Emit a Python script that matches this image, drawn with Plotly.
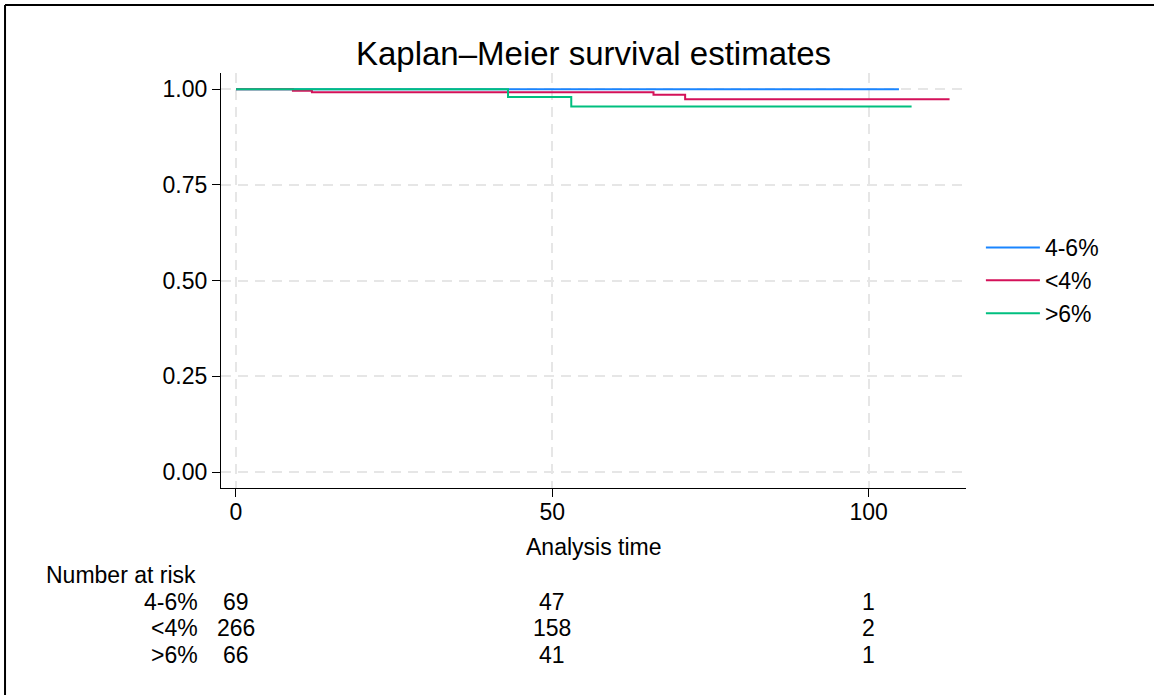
import plotly.graph_objects as go

# ---- data ----
groups = ["4-6%", "<4%", ">6%"]
colors = ["#1a85ff", "#d41159", "#00bf7f"]

t_mid = [0, 104.8]
s_mid = [1.0, 1.0]

t_low = [0, 9, 12, 66, 71, 112.8]
s_low = [1.0, 0.9962, 0.9925, 0.986, 0.974, 0.974]

t_high = [0, 43, 53, 106.8]
s_high = [1.0, 0.980, 0.955, 0.955]

risk_times = [0, 50, 100]
risk_mid = [69, 47, 1]
risk_low = [266, 158, 2]
risk_high = [66, 41, 1]

x_ticks = [0, 50, 100]
y_ticks = [0, 0.25, 0.5, 0.75, 1.0]

FONT = "Liberation Sans, Arial, Helvetica, sans-serif"
FS = 23

fig = go.Figure()
series = [(t_mid, s_mid), (t_low, s_low), (t_high, s_high)]
for name, col, (t, s) in zip(groups, colors, series):
    fig.add_trace(go.Scatter(
        x=t, y=s, mode="lines", name=name, legendgroup=name,
        line=dict(color=col, width=2, shape="hv"),
    ))

# risk table
row_y = [-0.2747, -0.3373, -0.4024]
for name, yy, vals in zip(groups, row_y, [risk_mid, risk_low, risk_high]):
    fig.add_annotation(x=-0.0285, y=yy, xref="paper", yref="paper", text=name,
                       showarrow=False, xanchor="right", yanchor="middle",
                       font=dict(size=FS, color="black", family=FONT))
    for tt, v in zip(risk_times, vals):
        fig.add_annotation(x=tt, y=yy, xref="x", yref="paper", text=str(v),
                           showarrow=False, xanchor="center", yanchor="middle",
                           font=dict(size=FS, color="black", family=FONT))
fig.add_annotation(x=-0.2376, y=-0.2096, xref="paper", yref="paper",
                   text="Number at risk", showarrow=False, xanchor="left",
                   yanchor="middle", font=dict(size=FS, color="black", family=FONT))
fig.add_annotation(x=0.5, y=-0.142, xref="paper", yref="paper",
                   text="Analysis time", showarrow=False, xanchor="center",
                   yanchor="middle", font=dict(size=FS, color="black", family=FONT))

# outer frame (only left and top edges are inside the picture)
fx0, fy1 = -0.2899, 1.1639
fig.add_shape(type="line", xref="paper", yref="paper", x0=fx0, x1=fx0, y0=-0.6, y1=fy1,
              line=dict(color="black", width=2))
fig.add_shape(type="line", xref="paper", yref="paper", x0=fx0, x1=1.4, y0=fy1, y1=fy1,
              line=dict(color="black", width=2))

fig.update_layout(
    width=1154, height=695,
    margin=dict(l=221, r=188, t=73, b=207),
    paper_bgcolor="white", plot_bgcolor="white",
    font=dict(family=FONT, size=FS, color="black"),
    title=dict(text="Kaplan\u2013Meier survival estimates", x=0.5, xref="paper",
               y=1 - 53 / 695, yref="container", xanchor="center", yanchor="middle",
               font=dict(size=33, color="black", family=FONT)),
    showlegend=True,
    legend=dict(x=1.02, xanchor="left", y=0.5, yanchor="middle",
                bgcolor="rgba(0,0,0,0)", borderwidth=0, tracegroupgap=0,
                itemwidth=54, font=dict(size=FS, color="black", family=FONT)),
)
fig.update_xaxes(range=[-2.37, 115.4], tickvals=x_ticks, ticktext=[str(v) for v in x_ticks],
                 showline=True, linecolor="black", linewidth=1.3,
                 ticks="outside", ticklen=8, tickcolor="black", tickwidth=1.3,
                 ticklabelstandoff=-5,
                 showgrid=True, gridcolor="#e6e6e6", griddash="10px,7px", gridwidth=1.5,
                 zeroline=False, tickfont=dict(size=FS))
fig.update_yaxes(range=[-0.0418, 1.0426], tickvals=y_ticks, tickformat=".2f",
                 showline=True, linecolor="black", linewidth=1.3,
                 ticks="outside", ticklen=8, tickcolor="black", tickwidth=1.3,
                 showgrid=True, gridcolor="#e6e6e6", griddash="10px,7px", gridwidth=1.5,
                 zeroline=False, tickfont=dict(size=FS))

fig.write_html(
    "out.html", config={"displayModeBar": False},
    post_script=("document.body.style.margin='0px';"
                 "document.body.style.overflow='hidden';"
                 "document.documentElement.style.overflow='hidden';"),
)
